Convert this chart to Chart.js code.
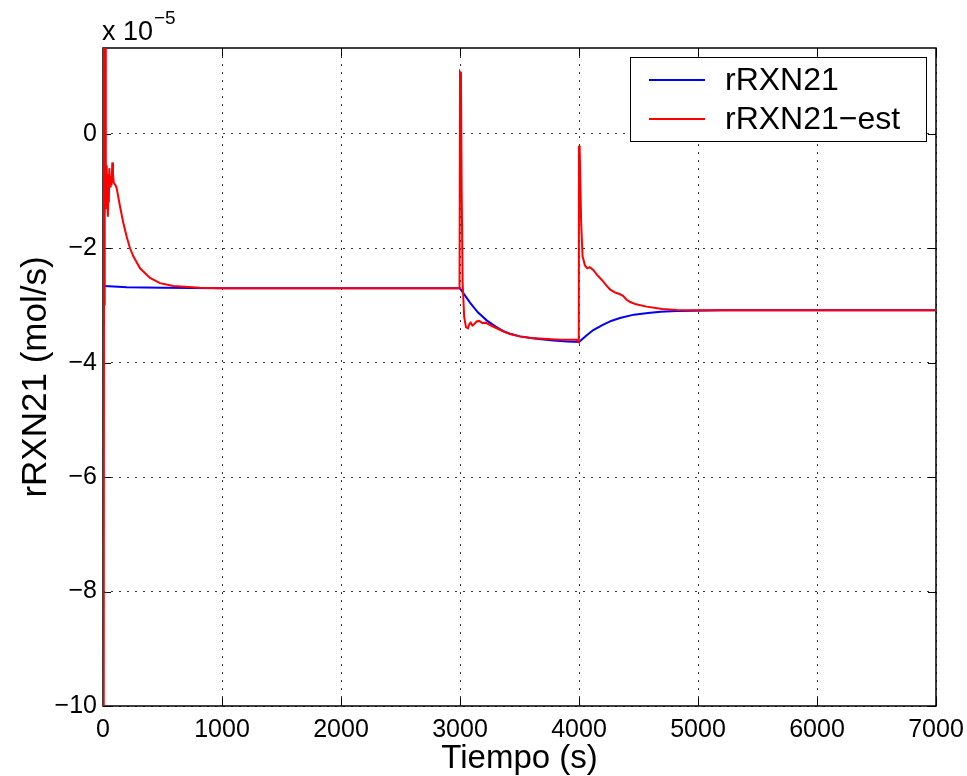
<!DOCTYPE html>
<html>
<head>
<meta charset="utf-8">
<script src="https://cdn.jsdelivr.net/npm/chart.js@4.4.1/dist/chart.umd.min.js"></script>
<style>
    html, body { margin: 0; padding: 0; background: #ffffff; }
    #wrap { width: 967px; height: 776px; }
</style>
</head>
<body>
<div id="wrap"><canvas id="chart" width="967" height="776"></canvas></div>
<script>
// values are in units of 1e-5 mol/s, as on the axis
const X_TICKS = [0, 1000, 2000, 3000, 4000, 5000, 6000, 7000];
const Y_TICKS = [-10, -8, -6, -4, -2, 0];

const TIME_REAL = [0, 50, 200, 500, 1000, 3000, 3040, 3084, 3150, 3224, 3300, 3364, 3430, 3504,
    3580, 3644, 3784, 3900, 4000, 4060, 4120, 4200, 4270, 4344, 4462, 4580, 4686, 4820, 4966, 5200, 7000];
const RXN_REAL = [-2.66, -2.665, -2.68, -2.69, -2.7, -2.7, -2.82, -2.95, -3.12, -3.26, -3.37, -3.45, -3.5, -3.54,
    -3.565, -3.58, -3.61, -3.63, -3.64, -3.53, -3.43, -3.34, -3.27, -3.22, -3.16, -3.13, -3.11, -3.095, -3.09, -3.085, -3.085];

const TIME_EST = [0, 4, 7, 10, 13, 16, 19, 22, 25, 28, 31, 36, 40, 42, 45, 49, 53, 59, 63, 67, 72, 78, 84, 90, 98,
    106, 115, 143, 171, 199, 227, 255, 311, 395, 479, 591, 815, 1000,
    2996, 3000, 3008, 3014, 3022, 3035, 3050, 3067, 3080, 3090, 3104, 3118, 3140, 3160, 3190, 3215, 3260, 3330,
    3420, 3500, 3600, 3700, 3840, 3980, 3998,
    4000, 4006, 4012, 4018, 4030, 4050, 4070, 4090, 4120, 4150, 4190, 4230, 4260, 4300, 4340, 4370, 4400, 4430,
    4480, 4568, 4700, 4820, 5000, 7000];
const RXN_EST = [-12, 2.5, -12, 2.5, -3, 2.2, -1.3, 1.8, -0.98, -1.3, -0.55, -1.1, -0.7, -1.45, -0.8, -1.2, -0.6, -0.92, -0.8, -0.74, -0.9, -0.5, -0.7, -0.85, -0.88,
    -0.9, -0.95, -1.27, -1.56, -1.8, -2.0, -2.14, -2.35, -2.52, -2.61, -2.66, -2.69, -2.7,
    -2.7, 1.08, 1.05, -1.0, -2.6, -3.2, -3.38, -3.4, -3.32, -3.3, -3.35, -3.33, -3.28, -3.27, -3.31, -3.3, -3.35, -3.42,
    -3.5, -3.54, -3.57, -3.58, -3.6, -3.6, -3.64,
    -0.21, -0.3, -0.9, -1.55, -2.14, -2.3, -2.35, -2.33, -2.38, -2.46, -2.55, -2.65, -2.72, -2.77, -2.8, -2.83, -2.9, -2.94,
    -2.98, -3.02, -3.06, -3.08, -3.085, -3.085];

const FONT_FAMILY = "'Liberation Sans', Arial, Helvetica, sans-serif";
const TICK_LEN = 8;

function toPoints(times, values) {
    return times.map((t, i) => ({ x: t, y: values[i] }));
}

function tickLabel(value) {
    return value < 0 ? "\u2212" + Math.abs(value) : String(value);
}

// MATLAB style box with inward ticks on all four sides
const frameAndTicks = {
    id: "frameAndTicks",
    beforeDatasetsDraw(chart) {
        const { ctx, chartArea: area, scales } = chart;
        ctx.save();
        ctx.strokeStyle = "#000000";
        ctx.lineWidth = 1;
        ctx.beginPath();
        X_TICKS.forEach((v) => {
            const px = Math.round(scales.x.getPixelForValue(v)) + 0.5;
            ctx.moveTo(px, area.bottom);
            ctx.lineTo(px, area.bottom - TICK_LEN);
            ctx.moveTo(px, area.top);
            ctx.lineTo(px, area.top + TICK_LEN);
        });
        Y_TICKS.forEach((v) => {
            const py = Math.round(scales.y.getPixelForValue(v)) + 0.5;
            ctx.moveTo(area.left, py);
            ctx.lineTo(area.left + TICK_LEN, py);
            ctx.moveTo(area.right, py);
            ctx.lineTo(area.right - TICK_LEN, py);
        });
        ctx.stroke();
        ctx.lineWidth = 1.5;
        ctx.strokeRect(area.left, area.top, area.right - area.left, area.bottom - area.top);
        ctx.restore();
    },
};

const boxLegend = {
    id: "boxLegend",
    afterDraw(chart) {
        const { ctx, chartArea: area } = chart;
        const box = { left: 630, top: 57, width: 296, height: 84 };
        ctx.save();
        ctx.fillStyle = "#ffffff";
        ctx.fillRect(box.left, box.top, box.width, box.height);
        ctx.strokeStyle = "#000000";
        ctx.lineWidth = 1;
        ctx.strokeRect(box.left + 0.5, box.top + 0.5, box.width, box.height);
        ctx.font = "32px " + FONT_FAMILY;
        ctx.textBaseline = "middle";
        ctx.textAlign = "left";
        chart.data.datasets.forEach((ds, i) => {
            const y = box.top + 23 + i * 39;
            ctx.strokeStyle = ds.borderColor;
            ctx.lineWidth = 2;
            ctx.beginPath();
            ctx.moveTo(box.left + 19, y);
            ctx.lineTo(box.left + 75, y);
            ctx.stroke();
            ctx.fillStyle = "#000000";
            ctx.fillText(ds.label, box.left + 95, y + 1);
        });

        // exponent label above the y axis
        ctx.fillStyle = "#000000";
        ctx.textBaseline = "alphabetic";
        ctx.font = "27px " + FONT_FAMILY;
        ctx.fillText("x 10", area.left - 1, 40);
        ctx.font = "19px " + FONT_FAMILY;
        ctx.fillText("\u22125", area.left + 51, 24);
        ctx.restore();
    },
};

new Chart(document.getElementById("chart"), {
    type: "line",
    data: {
        datasets: [
            {
                label: "rRXN21",
                data: toPoints(TIME_REAL, RXN_REAL),
                borderColor: "#0000ff",
                borderWidth: 2,
                pointRadius: 0,
                tension: 0,
                clip: 0,
                order: 1,
            },
            {
                label: "rRXN21\u2212est",
                data: toPoints(TIME_EST, RXN_EST),
                borderColor: "#ff0000",
                borderWidth: 2,
                pointRadius: 0,
                tension: 0,
                clip: 0,
                order: 0,
            },
        ],
    },
    options: {
        responsive: false,
        animation: false,
        devicePixelRatio: 1,
        layout: { padding: { top: 48, right: 31, left: 0, bottom: 0 } },
        plugins: {
            legend: { display: false },
            tooltip: { enabled: false },
        },
        scales: {
            x: {
                type: "linear",
                min: 0,
                max: 7000,
                afterBuildTicks: (scale) => {
                    scale.ticks = X_TICKS.map((v) => ({ value: v }));
                },
                afterFit: (scale) => {
                    scale.height = 70;
                    scale.paddingLeft = 0;
                    scale.paddingRight = 0;
                },
                grid: { color: "rgba(0,0,0,0.8)", lineWidth: 1, drawTicks: false },
                border: { display: false, dash: [2, 6] },
                ticks: {
                    color: "#000000",
                    padding: 9,
                    maxRotation: 0,
                    font: { family: FONT_FAMILY, size: 25 },
                    callback: tickLabel,
                },
                title: {
                    display: true,
                    text: "Tiempo (s)",
                    color: "#000000",
                    padding: { top: 0, bottom: 0 },
                    font: { family: FONT_FAMILY, size: 33, lineHeight: 1.05 },
                },
            },
            y: {
                type: "linear",
                min: -10,
                max: 1.5,
                afterBuildTicks: (scale) => {
                    scale.ticks = Y_TICKS.map((v) => ({ value: v }));
                },
                afterFit: (scale) => {
                    scale.width = 103;
                    scale.paddingTop = 0;
                    scale.paddingBottom = 0;
                },
                grid: { color: "rgba(0,0,0,0.8)", lineWidth: 1, drawTicks: false },
                border: { display: false, dash: [2, 6] },
                ticks: {
                    color: "#000000",
                    padding: 6,
                    font: { family: FONT_FAMILY, size: 25 },
                    callback: tickLabel,
                },
                title: {
                    display: true,
                    text: "rRXN21 (mol/s)",
                    color: "#000000",
                    padding: { top: 15, bottom: 0 },
                    font: { family: FONT_FAMILY, size: 35 },
                },
            },
        },
    },
    plugins: [frameAndTicks, boxLegend],
});
</script>
</body>
</html>
